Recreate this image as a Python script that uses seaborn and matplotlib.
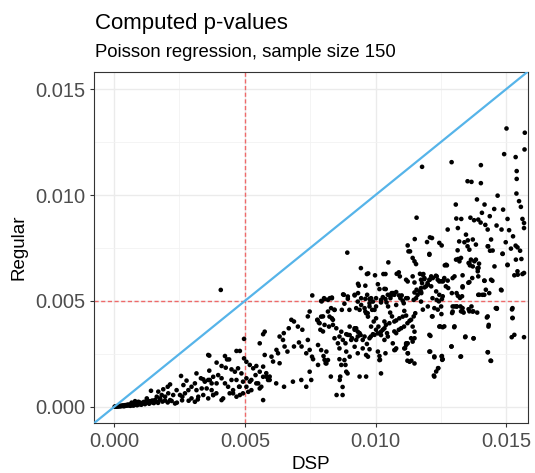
import numpy as np
import pandas as pd
import matplotlib
matplotlib.use("Agg")
import matplotlib.pyplot as plt
import seaborn as sns
from matplotlib.ticker import MultipleLocator

# p-values, in units of 1e-4, as (DSP, Regular) pairs
band = [
    (0.2, 0.1), (0.5, 0.2), (0.8, 0.1), (1.1, 0.3), (1.4, 0.2), (1.7, 0.4), (2.0, 0.2),
    (2.3, 0.5), (2.6, 0.3), (2.9, 0.6), (3.2, 0.4), (3.5, 0.7), (3.8, 0.3), (4.1, 0.8),
    (4.4, 0.5), (4.7, 0.9), (5.0, 0.6), (5.3, 1.1), (5.6, 0.7), (5.9, 1.0), (6.2, 0.5),
    (6.5, 1.3), (6.8, 0.8), (7.1, 1.2), (7.4, 0.6), (7.7, 1.5), (8.0, 1.0), (8.4, 1.4),
    (8.8, 0.8), (9.2, 1.7), (9.6, 1.2), (10.0, 2.0), (10.4, 1.0), (10.8, 1.6), (11.3, 2.3),
    (11.8, 1.3), (12.3, 1.9), (12.8, 2.6), (13.4, 1.5), (14.0, 2.2), (14.6, 3.0), (15.2, 1.8),
    (16.0, 2.6), (16.8, 1.9), (17.5, 3.4), (18.5, 2.5), (19.5, 3.0), (20.5, 2.1), (22.0, 2.8),
    (24.0, 2.0), (26.0, 3.1), (28.5, 2.9), (32.0, 3.5),
]

lower_left = [
    (14.1, 7.6), (21.4, 10.6), (25.6, 14.6), (31.5, 15.8), (36.4, 24.2), (36.4, 17.1),
    (27.7, 12.4), (26.5, 10.3), (30.9, 11.1), (33.2, 13.5), (34.1, 13.0), (34.7, 11.9),
    (36.0, 12.7), (37.3, 11.1), (29.6, 9.5), (28.4, 7.9), (31.5, 7.9), (33.5, 8.7),
    (35.4, 8.7), (37.3, 7.9), (23.9, 7.9), (22.6, 5.6), (20.7, 6.4), (19.5, 4.8),
    (18.2, 5.6), (17.6, 4.0), (16.3, 4.8), (15.6, 3.2), (21.4, 3.2), (23.3, 1.6),
    (26.1, 4.8), (27.1, 6.4), (25.2, 5.6), (29.6, 4.0), (30.9, 2.4), (32.2, 4.8),
    (34.1, 5.6), (36.0, 4.0), (37.9, 5.6), (20.5, 9.5), (18.8, 8.3), (16.9, 7.2),
    (12.5, 4.0), (9.3, 2.4), (8.0, 2.7), (6.7, 2.0), (11.8, 2.4), (13.7, 2.7), (15.0, 2.0),
    (40.8, 55.2), (57.6, 35.5), (57.0, 34.3), (49.7, 32.1), (55.7, 30.0), (46.8, 26.4),
    (48.1, 26.4), (36.0, 24.5), (42.4, 24.0), (43.2, 22.4), (44.0, 22.4), (49.7, 22.9),
    (50.6, 21.3), (39.2, 20.9), (41.1, 19.3), (42.7, 18.5), (44.9, 17.7), (46.2, 16.6),
    (47.4, 18.2), (48.7, 15.8), (51.9, 19.8), (53.2, 18.2), (54.4, 19.3), (55.7, 16.6),
    (57.0, 14.2), (54.1, 15.0), (52.5, 12.7), (50.6, 13.5), (49.3, 11.9), (47.8, 9.5),
    (46.8, 12.7), (44.9, 12.7), (43.6, 9.5), (42.4, 11.1), (41.1, 13.5), (39.8, 15.0),
    (37.9, 14.2), (36.6, 12.7), (39.2, 11.1), (41.1, 3.2), (45.5, 6.4), (48.1, 5.6),
    (57.0, 3.2), (50.6, 9.5), (51.3, 7.1), (55.1, 11.1), (56.3, 9.5), (58.3, 14.2),
    (58.9, 12.7), (65.0, 9.5), (73.5, 9.5), (71.6, 12.7), (68.4, 11.9), (62.0, 11.1),
    (59.5, 12.7), (55.7, 8.7), (52.5, 7.9), (49.3, 6.4), (46.8, 4.8), (41.7, 4.0),
    (39.1, 6.4), (37.9, 5.6), (44.2, 6.4), (45.5, 7.9), (48.0, 9.5), (75.4, 12.7),
    (74.8, 16.6), (54.4, 11.1), (51.9, 11.9), (85.1, 5.6), (87.4, 5.6), (86.3, 12.7),
    (87.4, 9.4),
]

middle = [
    (94.4, 65.5), (96.7, 62.7), (97.2, 63.0), (99.8, 62.1), (103.0, 62.7), (103.8, 62.7),
    (104.9, 68.2), (108.1, 62.8), (108.9, 63.5), (109.3, 61.6), (111.7, 60.0), (112.3, 59.2),
    (114.2, 61.6), (114.9, 58.7), (117.0, 62.8), (118.0, 62.4), (118.7, 60.3), (117.8, 58.4),
    (115.7, 55.3), (116.8, 54.5), (117.5, 53.7), (119.3, 56.9), (119.9, 58.4), (120.7, 60.0),
    (121.3, 61.6), (123.1, 61.9), (124.4, 59.2), (125.7, 59.2), (126.0, 59.7), (126.9, 56.9),
    (127.8, 56.1), (129.2, 53.7), (131.0, 53.7), (131.5, 52.4), (133.3, 56.9), (135.5, 58.6),
    (137.0, 60.8), (139.3, 61.6), (141.7, 59.5), (144.7, 59.5), (142.2, 55.3), (139.3, 52.9),
    (140.9, 52.9), (143.5, 53.7), (93.3, 58.1), (93.6, 57.2), (96.1, 57.2), (100.9, 57.9),
    (101.5, 55.6), (103.9, 55.6), (104.7, 52.9), (105.8, 52.4), (106.1, 53.4), (106.7, 53.7),
    (107.9, 54.2), (109.0, 52.6), (110.0, 52.6), (102.8, 51.8), (105.7, 51.3), (75.8, 52.6),
    (79.4, 49.8), (80.6, 50.9), (82.5, 51.3), (83.3, 51.3), (87.6, 53.1), (89.4, 52.1),
    (92.0, 52.9), (93.3, 53.7), (94.5, 51.3), (96.1, 51.0), (97.7, 50.9), (100.2, 51.3),
    (102.1, 50.5), (103.8, 50.9), (110.4, 50.1), (111.7, 51.3), (114.6, 50.5), (115.5, 51.3),
    (117.4, 49.7), (121.8, 51.3), (123.4, 50.5), (125.4, 50.9), (129.5, 47.4), (131.1, 47.4),
    (132.5, 47.4), (133.3, 45.0), (135.6, 46.1), (136.7, 47.4), (137.1, 45.0), (129.5, 45.0),
    (133.7, 44.5), (138.9, 44.5), (146.0, 46.6), (121.8, 42.7), (125.2, 43.8), (124.4, 37.9),
    (125.7, 37.6), (130.1, 37.6), (134.3, 32.9), (137.5, 32.3), (142.6, 42.2), (143.2, 37.9),
    (143.0, 25.8), (144.0, 21.8), (132.5, 23.7), (129.0, 28.5), (120.6, 26.1), (121.0, 33.5),
    (125.4, 24.0), (125.7, 22.5), (122.5, 23.4), (123.9, 18.2), (122.5, 14.3), (113.7, 21.8),
    (112.4, 25.3), (112.2, 21.8), (111.3, 27.7), (107.5, 26.9), (114.2, 30.8), (114.9, 32.4),
    (111.7, 30.0), (107.9, 34.8), (108.9, 36.4), (109.8, 37.1), (110.9, 37.9), (112.2, 39.5),
    (113.6, 41.1), (114.6, 42.7), (115.2, 44.2), (111.0, 45.3), (107.9, 40.8), (106.3, 42.7),
    (105.6, 44.5), (104.8, 47.4), (104.2, 49.3), (102.1, 49.3), (100.2, 47.4), (98.7, 45.8),
    (97.0, 44.2), (97.7, 47.4), (96.1, 45.0), (93.9, 45.8), (92.6, 46.6), (90.0, 45.8),
    (88.1, 48.7), (87.1, 45.8), (84.3, 45.8), (83.0, 46.6), (81.8, 45.0), (79.9, 42.7),
    (77.8, 41.1), (78.3, 39.8), (74.8, 45.0), (74.1, 42.7), (72.0, 36.4), (70.3, 37.9),
    (68.8, 40.3), (67.8, 41.1), (66.8, 37.1), (64.9, 34.8), (63.3, 33.2), (64.6, 31.6),
    (62.1, 26.9), (62.7, 25.3), (60.2, 23.7), (60.8, 21.4), (57.6, 24.5), (57.0, 19.0),
    (58.2, 15.9), (59.5, 14.3), (63.3, 20.6), (65.2, 28.5), (66.3, 26.1), (68.8, 28.5),
    (70.7, 30.4), (71.7, 28.5), (74.1, 31.6), (74.8, 26.9), (75.7, 23.7), (76.1, 22.5),
    (73.5, 25.3), (78.9, 36.4), (79.9, 35.6), (82.2, 37.9), (83.7, 41.1), (84.3, 32.4),
    (86.2, 33.2), (87.5, 31.6), (88.5, 30.0), (89.4, 34.0), (90.7, 31.6), (92.0, 36.4),
    (92.6, 37.1), (93.2, 33.2), (93.9, 34.8), (95.1, 31.6), (96.7, 29.7), (97.7, 27.2),
    (98.2, 33.2), (99.6, 34.0), (100.2, 36.4), (101.1, 37.9), (102.8, 36.4), (103.4, 40.3),
    (104.4, 34.8), (107.2, 35.6), (86.2, 22.5), (88.5, 19.8), (89.3, 15.8), (93.9, 14.3),
    (96.4, 14.3), (80.1, 24.0), (80.5, 22.2), (80.9, 20.6), (82.9, 14.3), (86.5, 14.3),
    (101.5, 24.0), (101.7, 22.2), (102.1, 15.8), (103.8, 25.3),
]

middle_extra = [
    (103.4, 55.7), (106.2, 53.7), (107.2, 52.9), (114.9, 54.0), (116.1, 52.9), (117.4, 54.4),
    (112.3, 51.3), (110.8, 48.9), (107.9, 48.1), (109.5, 51.3), (83.3, 51.6), (81.8, 50.5),
    (80.3, 51.3), (79.2, 50.0), (87.9, 52.9), (89.4, 51.0), (92.0, 52.6), (93.2, 49.7),
    (96.8, 52.9), (98.3, 51.3), (97.7, 48.9), (95.8, 46.6), (94.5, 48.1), (99.0, 49.7),
    (99.6, 45.8), (100.2, 41.8), (99.3, 40.3), (98.3, 37.9), (97.1, 42.6), (96.4, 44.2),
    (84.3, 45.8), (83.3, 41.8), (82.4, 42.6), (79.2, 42.6), (77.7, 41.0), (78.6, 39.5),
    (80.5, 38.7), (83.7, 38.7), (85.0, 37.1), (86.9, 35.5), (88.8, 34.3), (90.1, 33.9),
    (91.0, 32.4), (92.6, 31.6), (90.1, 37.9), (92.0, 37.1), (93.2, 35.5), (94.3, 33.9),
    (95.8, 33.2), (97.7, 32.4), (99.0, 34.3), (100.9, 34.7), (102.1, 35.5), (103.4, 37.1),
    (104.0, 38.7), (105.3, 39.5), (107.2, 40.3), (109.1, 41.8), (110.4, 42.6), (111.7, 43.1),
    (113.0, 40.6), (114.2, 37.9), (114.9, 35.5), (113.6, 32.4), (112.3, 30.0), (111.0, 27.6),
    (107.9, 27.6), (106.6, 30.0), (104.7, 33.2), (103.4, 31.6), (102.1, 33.9), (78.0, 29.2),
    (79.2, 26.8), (81.2, 26.1), (81.8, 22.1), (81.2, 20.5), (78.0, 19.8), (85.6, 30.0),
    (86.2, 27.6), (88.8, 26.1), (90.1, 23.7), (88.1, 22.1), (86.9, 19.8), (88.8, 16.6),
    (93.2, 25.3), (96.4, 24.5), (97.1, 23.7), (95.1, 27.6), (92.0, 28.4), (100.9, 26.1),
    (101.5, 22.1), (107.2, 26.8), (112.3, 25.3), (113.0, 21.3), (114.9, 20.5), (111.7, 29.2),
]

upper = [
    (150.1, 131.4), (157.1, 129.4), (149.2, 119.3), (153.6, 117.9), (129.1, 115.5),
    (117.8, 113.3), (140.3, 114.1), (157.0, 121.5), (154.0, 111.3), (154.0, 107.6),
    (135.2, 106.5), (136.7, 106.2), (140.3, 105.6), (146.7, 99.7), (153.9, 100.7),
    (154.9, 97.1), (138.8, 97.9), (130.7, 95.5), (141.7, 95.5), (155.6, 94.4), (148.8, 93.1),
    (115.7, 89.3), (130.9, 88.9), (132.8, 88.7), (136.3, 89.3), (137.7, 88.1), (139.3, 88.4),
    (140.2, 87.0), (143.7, 90.0), (145.4, 93.4), (150.5, 88.7), (156.2, 88.7), (156.8, 86.8),
    (142.0, 85.9), (146.3, 85.6), (148.2, 83.7), (127.6, 83.7), (131.5, 84.4), (120.8, 80.0),
    (119.7, 77.8), (121.6, 79.7), (115.0, 79.2), (112.3, 76.2), (124.4, 77.4), (125.3, 76.2),
    (134.6, 81.3), (135.3, 78.6), (138.4, 76.6), (132.0, 78.1), (143.1, 75.8), (143.8, 73.7),
    (149.8, 77.7), (153.6, 76.1), (154.3, 75.3), (155.3, 73.7), (152.6, 80.5), (156.8, 84.4),
    (89.2, 72.8), (112.6, 73.4), (113.2, 73.4), (114.2, 70.3), (114.9, 68.7), (115.5, 67.4),
    (120.6, 71.8), (126.5, 66.8), (127.3, 66.8), (131.4, 73.9), (131.6, 69.8), (132.7, 70.3),
    (135.6, 67.9), (136.1, 66.8), (137.2, 66.3), (138.4, 69.5), (139.0, 65.4), (139.6, 67.6),
    (145.5, 66.3), (150.5, 66.9), (155.8, 69.8), (156.2, 62.7), (154.4, 62.4), (156.8, 63.2),
    (148.6, 72.3), (148.2, 55.0), (146.4, 46.3), (152.2, 46.0), (152.4, 42.0), (152.1, 32.9),
    (156.8, 32.9),
]

right_extra = [
    (140.7, 91.6), (151.1, 83.4), (142.9, 83.7), (144.2, 79.0), (137.2, 79.0), (134.0, 77.7),
    (135.2, 75.8), (120.6, 72.2), (135.9, 74.2), (142.9, 75.8), (144.8, 73.8), (148.6, 72.2),
    (151.8, 74.7), (130.8, 69.5), (132.1, 68.7), (135.9, 67.9), (136.5, 69.5), (137.8, 68.7),
    (139.4, 65.6), (139.1, 64.0), (127.0, 67.1), (150.5, 67.1), (153.7, 69.5), (118.3, 62.7),
    (118.7, 60.8), (117.4, 60.0), (120.6, 60.0), (121.9, 60.8), (123.4, 61.6), (123.8, 60.0),
    (125.1, 59.3), (126.3, 60.8), (127.6, 59.6), (129.5, 60.8), (130.2, 61.6), (133.3, 62.1),
    (133.3, 56.4), (135.9, 58.9), (141.6, 59.6), (144.2, 60.0), (148.0, 55.3), (153.1, 62.1),
    (154.3, 64.0), (117.4, 56.1), (118.7, 56.4), (120.0, 57.7), (121.3, 56.9), (123.2, 54.5),
    (124.4, 52.9), (125.7, 52.2), (124.2, 49.8), (125.1, 47.4), (123.8, 45.9), (122.5, 46.6),
    (120.0, 47.4), (118.1, 45.9), (121.6, 42.7), (124.7, 38.0), (126.3, 38.0), (130.2, 38.0),
    (134.4, 33.2), (137.5, 32.4), (130.2, 47.4), (129.3, 44.3), (131.0, 47.4), (132.7, 45.1),
    (133.3, 46.6), (132.3, 51.4), (133.1, 52.2), (135.9, 45.1), (137.4, 45.1), (139.7, 52.9),
    (141.6, 52.9), (142.9, 42.7), (143.3, 38.7), (146.4, 46.6), (152.4, 46.6), (152.4, 41.9),
    (153.1, 34.0), (120.6, 34.0), (129.1, 28.5), (132.7, 23.8), (120.9, 26.1), (122.5, 23.8),
    (125.3, 23.8), (125.5, 22.2), (124.0, 18.3), (123.2, 16.7), (122.3, 14.8), (142.9, 25.8),
    (144.2, 21.7),
]

cutoff = 0.005
lims = (-0.00077, 0.01582)
ticks = [0.000, 0.005, 0.010, 0.015]

pts = np.array(band + lower_left + middle + middle_extra + upper + right_extra) * 1e-4
df = pd.DataFrame(pts, columns=["DSP", "Regular"])

sns.set_theme(style="whitegrid")
plt.rcParams["font.family"] = ["Liberation Sans", "DejaVu Sans"]

fig = plt.figure(figsize=(5.35, 4.73), dpi=100)
ax = fig.add_axes([0.1757, 0.1053, 0.8106, 0.7431])

sns.scatterplot(data=df, x="DSP", y="Regular", ax=ax, color="black",
                s=11, edgecolor="none", linewidth=0, zorder=3)
ax.axline((0, 0), slope=1, color="#56B4E9", lw=1.6, zorder=4)
ax.axvline(cutoff, color="#EE6A6A", ls=(0, (3, 1.8)), lw=1.0, zorder=2)
ax.axhline(cutoff, color="#EE6A6A", ls=(0, (3, 1.8)), lw=1.0, zorder=2)

ax.set_xlim(lims)
ax.set_ylim(lims)
ax.set_xticks(ticks)
ax.set_yticks(ticks)
ax.set_xticklabels([f"{t:.3f}" for t in ticks])
ax.set_yticklabels([f"{t:.3f}" for t in ticks])
ax.xaxis.set_minor_locator(MultipleLocator(0.0025))
ax.yaxis.set_minor_locator(MultipleLocator(0.0025))
ax.grid(which="major", color="#EBEBEB", lw=1.0)
ax.grid(which="minor", color="#F2F2F2", lw=0.6)
ax.set_axisbelow(True)
for sp in ax.spines.values():
    sp.set_color("#333333")
    sp.set_linewidth(0.8)
ax.tick_params(which="major", direction="out", length=3, width=0.8, color="#333333",
               labelsize=14.5, labelcolor="#4D4D4D", pad=3, bottom=True, left=True)
ax.tick_params(which="minor", length=0)

ax.set_xlabel("DSP", fontsize=13.5, color="black", labelpad=4)
ax.set_ylabel("Regular", fontsize=13.5, color="black", labelpad=6)

fig.text(0.1776, 0.950, "Computed p-values", fontsize=16, color="black", va="center")
fig.text(0.1776, 0.888, "Poisson regression, sample size 150", fontsize=13.3, color="black", va="center")

fig.savefig("out.png", dpi=100)
